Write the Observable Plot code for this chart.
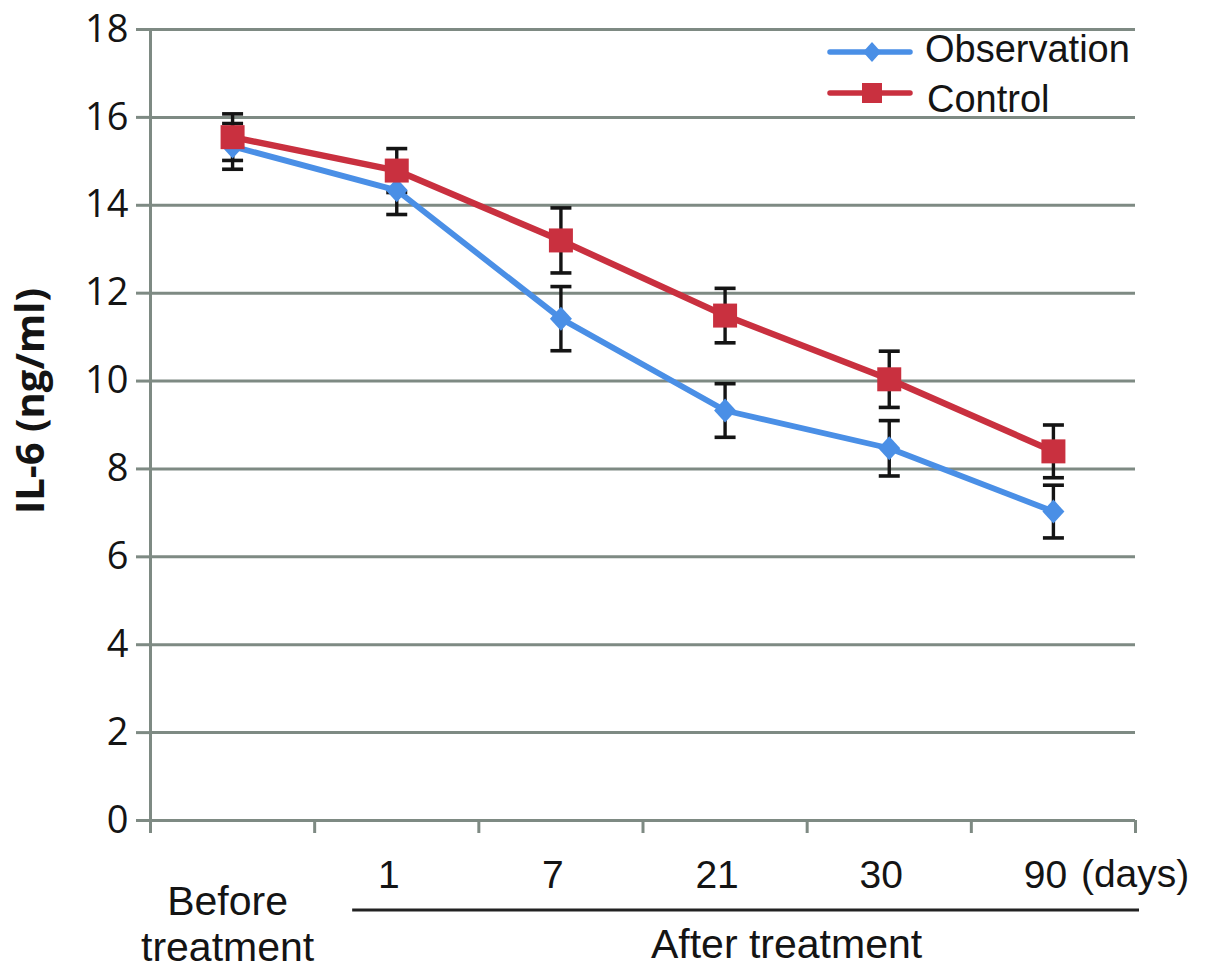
<!DOCTYPE html>
<html>
<head>
<meta charset="utf-8">
<script src="https://cdn.jsdelivr.net/npm/d3@7"></script>
<script src="https://cdn.jsdelivr.net/npm/@observablehq/plot@0.6"></script>
<style>
  html, body { margin: 0; padding: 0; background: #fff; }
  #chart svg { display: block; }
</style>
</head>
<body>
<div id="chart"></div>
<script>
// ---- data ----
const categories = ["Before treatment", "1", "7", "21", "30", "90"];
const seriesNames = ["Observation", "Control"];
const observation    = [15.34, 14.34, 11.42, 9.33, 8.47, 7.03];
const observationErr = [0.52, 0.55, 0.73, 0.61, 0.63, 0.60];
const control        = [15.55, 14.79, 13.20, 11.49, 10.04, 8.40];
const controlErr     = [0.53, 0.50, 0.74, 0.62, 0.64, 0.60];
const yTicks = [0, 2, 4, 6, 8, 10, 12, 14, 16, 18];
const unitLabel = "(days)";
const groupLabel = "After treatment";
const yLabel = "IL-6 (ng/ml)";

// ---- styles ----
const colors = {Observation: "#4a8fe6", Control: "#c9303f"};
const gridColor = "#7e8a83";
const textColor = "#141414";
const sansFont = "'Liberation Sans', Arial, sans-serif";

const rows = [];
categories.forEach((c, i) => {
  rows.push({i, cat: c, series: "Observation", value: observation[i], err: observationErr[i]});
  rows.push({i, cat: c, series: "Control", value: control[i], err: controlErr[i]});
});
const pos = d => d.i + 0.5;
const obsRows = rows.filter(d => d.series === "Observation");
const ctlRows = rows.filter(d => d.series === "Control");

const capSymbol = {draw(ctx) { ctx.moveTo(-10.5, 0); ctx.lineTo(10.5, 0); }};
const diamondSymbol = {draw(ctx) { ctx.moveTo(0, -12); ctx.lineTo(11, 0); ctx.lineTo(0, 12); ctx.lineTo(-11, 0); ctx.closePath(); }};
const squareSymbol = {draw(ctx) { ctx.rect(-12, -12, 24, 24); }};

const W = 1205, H = 970, mL = 150, mR = 70, mT = 29, mB = 150;

const chart = Plot.plot({
  width: W, height: H,
  marginLeft: mL, marginRight: mR, marginTop: mT, marginBottom: mB,
  style: {fontFamily: sansFont, color: textColor, background: "#fff"},
  x: {domain: [0, categories.length], axis: null},
  y: {domain: [0, 18], axis: null},
  marks: [
    Plot.gridY(yTicks, {stroke: gridColor, strokeOpacity: 1, strokeWidth: 3}),
    Plot.ruleX([0], {stroke: gridColor, strokeWidth: 3}),
    Plot.axisY({ticks: yTicks, tickSize: 14, tickPadding: 8, stroke: gridColor, strokeWidth: 3,
      fontSize: 38, fontFamily: "'Open Sans', sans-serif", fill: textColor, label: null}),
    Plot.axisX({ticks: d3.range(categories.length + 1), tickSize: 13, tickFormat: () => "",
      stroke: gridColor, strokeWidth: 3, label: null}),
    Plot.axisX({ticks: d3.range(1, categories.length).map(i => i + 0.5), tickSize: 0, tickPadding: 40,
      tickFormat: d => categories[Math.round(d - 0.5)], fontSize: 39, dx: -8, fill: textColor, label: null}),
    Plot.text([categories[0]], {x: () => 0.5, frameAnchor: "bottom", dy: 62, dx: -5,
      text: d => d.replace(" ", "\n"), lineAnchor: "top", lineHeight: 1.12, fontSize: 41,
      textAnchor: "middle", fill: textColor}),
    // error bars
    Plot.ruleX(rows, {x: pos, y1: d => d.value - d.err, y2: d => d.value + d.err, stroke: "#141414", strokeWidth: 3.4}),
    Plot.dot(rows, {x: pos, y: d => d.value + d.err, symbol: capSymbol, stroke: "#141414", strokeWidth: 3.6, fill: "none"}),
    Plot.dot(rows, {x: pos, y: d => d.value - d.err, symbol: capSymbol, stroke: "#141414", strokeWidth: 3.6, fill: "none"}),
    // lines
    Plot.line(obsRows, {x: pos, y: "value", stroke: colors.Observation, strokeWidth: 5.8}),
    Plot.line(ctlRows, {x: pos, y: "value", stroke: colors.Control, strokeWidth: 6.4}),
    // markers
    Plot.dot(obsRows, {x: pos, y: "value", symbol: diamondSymbol, fill: colors.Observation, stroke: "none"}),
    Plot.dot(ctlRows, {x: pos, y: "value", symbol: squareSymbol, fill: colors.Control, stroke: "none"})
  ]
});

document.getElementById("chart").appendChild(chart);

// ---- annotations: labels, separator, legend ----
const xs = chart.scale("x");
const svg = d3.select(chart);
const n = categories.length;

svg.append("text")
  .attr("x", xs.apply(n - 0.5) + 28).attr("y", 887)
  .attr("text-anchor", "start")
  .attr("font-size", 39).attr("fill", textColor)
  .attr("font-family", sansFont)
  .text(unitLabel);

svg.append("line")
  .attr("x1", xs.apply(1) + 38).attr("x2", xs.apply(n) + 4)
  .attr("y1", 910).attr("y2", 910)
  .attr("stroke", "#222").attr("stroke-width", 2.8);

svg.append("text")
  .attr("x", (xs.apply(1) + xs.apply(n)) / 2 + 62).attr("y", 958)
  .attr("text-anchor", "middle").attr("font-size", 41).attr("fill", textColor)
  .attr("font-family", sansFont)
  .text(groupLabel);

svg.append("text")
  .attr("transform", "translate(28,401) rotate(-90)")
  .attr("text-anchor", "middle").attr("dominant-baseline", "central")
  .attr("font-size", 40).attr("font-weight", "bold").attr("fill", textColor)
  .attr("font-family", "'Open Sans', sans-serif")
  .text(yLabel);

// legend
const lg = svg.append("g");
const lx0 = 830, lx1 = 910;
seriesNames.forEach((s, k) => {
  const ly = 52 + k * 41;
  lg.append("line").attr("x1", lx0).attr("x2", lx1).attr("y1", ly).attr("y2", ly)
    .attr("stroke", colors[s]).attr("stroke-width", 5.5).attr("stroke-linecap", "round");
  const cx = (lx0 + lx1) / 2 + 2;
  if (s === "Observation") {
    lg.append("path").attr("d", `M${cx},${ly - 10}L${cx + 9},${ly}L${cx},${ly + 10}L${cx - 9},${ly}Z`)
      .attr("fill", colors[s]);
  } else {
    lg.append("rect").attr("x", cx - 10).attr("y", ly - 10).attr("width", 20).attr("height", 20)
      .attr("fill", colors[s]);
  }
  lg.append("text").attr("x", 925 + k * 2).attr("y", ly + 10 + k * 9)
    .attr("text-anchor", "start")
    .attr("font-size", 38).attr("fill", textColor)
    .attr("font-family", sansFont)
    .text(s);
});
</script>
</body>
</html>
